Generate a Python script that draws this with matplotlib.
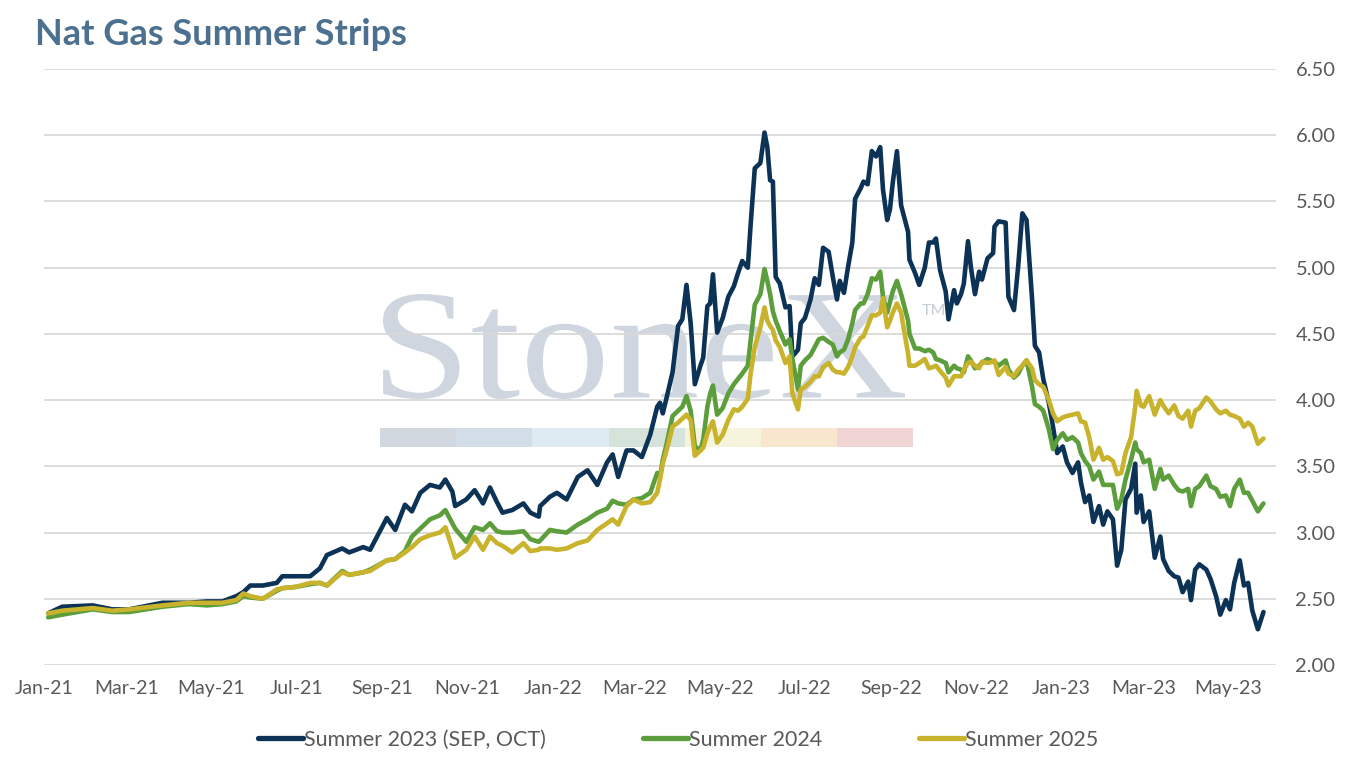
import matplotlib
matplotlib.use("Agg")
import matplotlib.pyplot as plt
import matplotlib.dates as mdates
from matplotlib.patches import Rectangle, PathPatch
from matplotlib.textpath import TextPath
from matplotlib.font_manager import FontProperties
from matplotlib.transforms import Affine2D, IdentityTransform
import pandas as pd

plt.rcParams['font.family'] = ['Lato', 'DejaVu Sans']

dates = [
    "2021-01-04", "2021-01-14", "2021-02-05", "2021-02-19", "2021-03-03", "2021-03-27", "2021-04-15", "2021-04-28",
    "2021-05-09", "2021-05-19", "2021-05-24", "2021-05-29", "2021-06-07", "2021-06-17", "2021-06-21", "2021-07-01",
    "2021-07-11", "2021-07-18", "2021-07-23", "2021-08-03", "2021-08-08", "2021-08-18", "2021-08-23", "2021-09-04",
    "2021-09-10", "2021-09-17", "2021-09-22", "2021-09-28", "2021-10-05", "2021-10-12", "2021-10-16", "2021-10-21",
    "2021-10-23", "2021-10-31", "2021-11-06", "2021-11-12", "2021-11-17", "2021-11-22", "2021-11-26", "2021-12-03",
    "2021-12-11", "2021-12-16", "2021-12-22", "2021-12-23", "2021-12-30", "2022-01-04", "2022-01-11", "2022-01-19",
    "2022-01-26", "2022-02-02", "2022-02-09", "2022-02-13", "2022-02-17", "2022-02-23", "2022-02-28", "2022-03-06",
    "2022-03-12", "2022-03-17", "2022-03-19", "2022-03-21", "2022-03-24", "2022-03-28", "2022-04-01", "2022-04-04",
    "2022-04-07", "2022-04-10", "2022-04-13", "2022-04-17", "2022-04-19", "2022-04-22", "2022-04-24", "2022-04-26",
    "2022-04-29", "2022-05-03", "2022-05-07", "2022-05-11", "2022-05-14", "2022-05-17", "2022-05-21", "2022-05-23",
    "2022-05-26", "2022-05-30", "2022-06-02", "2022-06-04", "2022-06-06", "2022-06-08", "2022-06-10", "2022-06-13",
    "2022-06-17", "2022-06-20", "2022-06-22", "2022-06-26", "2022-06-28", "2022-07-01", "2022-07-05", "2022-07-08",
    "2022-07-11", "2022-07-14", "2022-07-18", "2022-07-21", "2022-07-24", "2022-07-26", "2022-07-29", "2022-08-01",
    "2022-08-04", "2022-08-06", "2022-08-10", "2022-08-12", "2022-08-15", "2022-08-18", "2022-08-21", "2022-08-24",
    "2022-08-26", "2022-08-29", "2022-08-31", "2022-09-02", "2022-09-05", "2022-09-08", "2022-09-13", "2022-09-14",
    "2022-09-18", "2022-09-21", "2022-09-25", "2022-09-28", "2022-10-01", "2022-10-03", "2022-10-06", "2022-10-10",
    "2022-10-12", "2022-10-16", "2022-10-18", "2022-10-21", "2022-10-23", "2022-10-26", "2022-10-28", "2022-10-31",
    "2022-11-03", "2022-11-05", "2022-11-09", "2022-11-13", "2022-11-14", "2022-11-17", "2022-11-22", "2022-11-24",
    "2022-11-28", "2022-12-01", "2022-12-04", "2022-12-07", "2022-12-11", "2022-12-13", "2022-12-16", "2022-12-19",
    "2022-12-23", "2022-12-26", "2022-12-29", "2023-01-02", "2023-01-05", "2023-01-09", "2023-01-13", "2023-01-15",
    "2023-01-18", "2023-01-21", "2023-01-24", "2023-01-28", "2023-01-31", "2023-02-03", "2023-02-07", "2023-02-10",
    "2023-02-13", "2023-02-16", "2023-02-20", "2023-02-23", "2023-02-24", "2023-02-27", "2023-03-01", "2023-03-05",
    "2023-03-09", "2023-03-13", "2023-03-15", "2023-03-19", "2023-03-23", "2023-03-26", "2023-03-29", "2023-04-02",
    "2023-04-04", "2023-04-07", "2023-04-10", "2023-04-15", "2023-04-18", "2023-04-22", "2023-04-25", "2023-04-29",
    "2023-05-02", "2023-05-05", "2023-05-09", "2023-05-12", "2023-05-15", "2023-05-18", "2023-05-22", "2023-05-26",
]

summer_2023 = [
    2.39, 2.44, 2.45, 2.42, 2.42, 2.47, 2.47, 2.48,
    2.48, 2.52, 2.55, 2.60, 2.60, 2.62, 2.67, 2.67,
    2.67, 2.73, 2.83, 2.88, 2.85, 2.89, 2.87, 3.11,
    3.02, 3.21, 3.16, 3.30, 3.36, 3.34, 3.40, 3.31,
    3.20, 3.25, 3.32, 3.22, 3.34, 3.23, 3.15, 3.17,
    3.22, 3.15, 3.12, 3.20, 3.27, 3.30, 3.25, 3.42,
    3.47, 3.36, 3.53, 3.59, 3.42, 3.62, 3.62, 3.57,
    3.74, 3.95, 3.98, 3.90, 4.03, 4.21, 4.56, 4.61,
    4.87, 4.58, 4.12, 4.26, 4.32, 4.71, 4.73, 4.95,
    4.51, 4.62, 4.78, 4.86, 4.96, 5.05, 5.00, 5.32,
    5.75, 5.79, 6.02, 5.91, 5.66, 5.65, 4.93, 4.88,
    4.70, 4.71, 4.33, 4.38, 4.58, 4.62, 4.76, 4.92,
    4.87, 5.15, 5.12, 4.93, 4.76, 4.90, 4.81, 5.01,
    5.19, 5.52, 5.60, 5.65, 5.63, 5.88, 5.84, 5.91,
    5.59, 5.36, 5.44, 5.64, 5.88, 5.47, 5.27, 5.06,
    4.96, 4.87, 5.00, 5.19, 5.19, 5.22, 4.98, 4.82,
    4.61, 4.83, 4.73, 4.80, 4.88, 5.20, 5.01, 4.80,
    4.97, 4.91, 5.07, 5.11, 5.31, 5.35, 5.34, 4.78,
    4.68, 5.01, 5.41, 5.36, 4.76, 4.41, 4.36, 4.16,
    3.98, 3.80, 3.60, 3.65, 3.53, 3.45, 3.53, 3.38,
    3.23, 3.28, 3.08, 3.20, 3.06, 3.16, 3.10, 2.75,
    2.87, 3.25, 3.33, 3.52, 3.15, 3.28, 3.08, 3.16,
    2.81, 2.97, 2.80, 2.71, 2.67, 2.66, 2.55, 2.63,
    2.49, 2.72, 2.76, 2.72, 2.65, 2.52, 2.38, 2.49,
    2.42, 2.62, 2.79, 2.60, 2.62, 2.41, 2.27, 2.40,
]

summer_2024 = [
    2.36, 2.38, 2.42, 2.40, 2.40, 2.44, 2.46, 2.45,
    2.46, 2.48, 2.52, 2.51, 2.50, 2.56, 2.58, 2.59,
    2.61, 2.62, 2.60, 2.71, 2.68, 2.70, 2.72, 2.79,
    2.80, 2.86, 2.97, 3.03, 3.10, 3.13, 3.17, 3.07,
    3.03, 2.93, 3.04, 3.02, 3.07, 3.01, 3.00, 3.00,
    3.01, 2.95, 2.93, 2.94, 3.02, 3.01, 3.00, 3.06,
    3.10, 3.15, 3.18, 3.24, 3.22, 3.21, 3.25, 3.26,
    3.30, 3.45, 3.42, 3.55, 3.68, 3.88, 3.92, 3.95,
    4.03, 3.92, 3.65, 3.62, 3.70, 3.95, 4.05, 4.11,
    3.89, 3.94, 4.05, 4.12, 4.16, 4.20, 4.26, 4.45,
    4.72, 4.80, 4.99, 4.90, 4.80, 4.67, 4.60, 4.52,
    4.42, 4.46, 4.31, 4.08, 4.26, 4.30, 4.34, 4.40,
    4.46, 4.47, 4.44, 4.42, 4.33, 4.36, 4.38, 4.46,
    4.58, 4.68, 4.73, 4.73, 4.80, 4.92, 4.91, 4.97,
    4.78, 4.66, 4.74, 4.82, 4.90, 4.80, 4.60, 4.50,
    4.39, 4.39, 4.37, 4.38, 4.36, 4.31, 4.30, 4.28,
    4.21, 4.26, 4.24, 4.23, 4.21, 4.33, 4.30, 4.24,
    4.26, 4.28, 4.31, 4.29, 4.29, 4.26, 4.30, 4.23,
    4.17, 4.20, 4.26, 4.30, 4.10, 3.97, 3.95, 3.92,
    3.78, 3.63, 3.70, 3.75, 3.70, 3.72, 3.68, 3.60,
    3.54, 3.50, 3.40, 3.46, 3.36, 3.36, 3.36, 3.18,
    3.25, 3.40, 3.55, 3.68, 3.63, 3.60, 3.53, 3.55,
    3.33, 3.48, 3.40, 3.43, 3.36, 3.32, 3.31, 3.33,
    3.20, 3.33, 3.35, 3.43, 3.35, 3.33, 3.27, 3.28,
    3.20, 3.33, 3.40, 3.30, 3.30, 3.24, 3.16, 3.22,
]

summer_2025 = [
    2.39, 2.41, 2.43, 2.41, 2.42, 2.45, 2.47, 2.47,
    2.47, 2.49, 2.54, 2.52, 2.50, 2.57, 2.58, 2.59,
    2.62, 2.62, 2.60, 2.70, 2.68, 2.70, 2.71, 2.79,
    2.80, 2.85, 2.89, 2.95, 2.98, 3.00, 3.04, 2.88,
    2.81, 2.87, 2.97, 2.87, 2.97, 2.92, 2.90, 2.85,
    2.92, 2.86, 2.87, 2.88, 2.88, 2.87, 2.88, 2.92,
    2.94, 3.02, 3.07, 3.10, 3.06, 3.20, 3.25, 3.22,
    3.23, 3.30, 3.40, 3.52, 3.63, 3.80, 3.83, 3.86,
    3.89, 3.85, 3.58, 3.62, 3.64, 3.75, 3.80, 3.84,
    3.68, 3.74, 3.85, 3.93, 3.92, 3.95, 4.01, 4.20,
    4.40, 4.55, 4.70, 4.60, 4.56, 4.53, 4.45, 4.40,
    4.28, 4.33, 4.05, 3.93, 4.08, 4.10, 4.14, 4.18,
    4.18, 4.25, 4.28, 4.23, 4.21, 4.21, 4.20, 4.25,
    4.33, 4.40, 4.47, 4.48, 4.56, 4.64, 4.64, 4.66,
    4.77, 4.55, 4.60, 4.66, 4.73, 4.66, 4.35, 4.26,
    4.26, 4.28, 4.31, 4.24, 4.25, 4.26, 4.22, 4.17,
    4.11, 4.18, 4.18, 4.18, 4.23, 4.28, 4.29, 4.26,
    4.24, 4.29, 4.28, 4.29, 4.30, 4.19, 4.25, 4.20,
    4.18, 4.23, 4.26, 4.30, 4.24, 4.15, 4.12, 4.10,
    4.00, 3.90, 3.84, 3.87, 3.88, 3.89, 3.90, 3.84,
    3.83, 3.72, 3.55, 3.64, 3.55, 3.57, 3.54, 3.44,
    3.45, 3.60, 3.72, 3.95, 4.07, 3.96, 3.95, 4.03,
    3.89, 4.00, 3.96, 3.90, 3.96, 3.88, 3.86, 3.92,
    3.80, 3.92, 3.94, 4.02, 3.99, 3.93, 3.90, 3.92,
    3.89, 3.88, 3.86, 3.80, 3.83, 3.80, 3.67, 3.71,
]

series_names = ["Summer 2023 (SEP, OCT)", "Summer 2024", "Summer 2025"]
series_colors = ["#0c3256", "#5b9e3b", "#c9b22c"]
title = "Nat Gas Summer Strips"
y_ticks = [2.0, 2.5, 3.0, 3.5, 4.0, 4.5, 5.0, 5.5, 6.0, 6.5]

W, H = 1356, 758
fig = plt.figure(figsize=(W / 100, H / 100), dpi=100)
ax = fig.add_axes([44 / W, 93 / H, (1276 - 44) / W, (665 - 69) / H])

x = pd.to_datetime(dates)
for vals, name, col in zip([summer_2023, summer_2024, summer_2025], series_names, series_colors):
    ax.plot(x, vals, color=col, lw=3.3, label=name, solid_joinstyle='round', solid_capstyle='round', zorder=3)

ax.set_ylim(2.0, 6.5)
ax.set_yticks(y_ticks)
ax.yaxis.set_major_formatter(matplotlib.ticker.FormatStrFormatter('%.2f'))
ax.set_xlim(pd.Timestamp("2021-01-01"), pd.Timestamp("2023-06-04"))
ax.xaxis.set_major_locator(mdates.MonthLocator(bymonth=[1, 3, 5, 7, 9, 11]))
ax.xaxis.set_major_formatter(mdates.DateFormatter('%b-%y'))
ax.yaxis.tick_right()
ax.tick_params(axis='y', length=0, pad=14, labelsize=14.5, labelcolor='#595959')
ax.tick_params(axis='x', length=0, pad=11, labelsize=14, labelcolor='#595959')
for s in ax.spines.values():
    s.set_visible(False)
ax.grid(axis='y', color='#d9d9d9', lw=1.3)
ax.set_axisbelow(True)

# watermark "StoneX" scaled to the logo box
tp = TextPath((0, 0), "StoneX", size=100, prop=FontProperties(family='Liberation Serif'))
ext = tp.get_extents()
x0, x1, ytop, ybot = 383, 905, 294, 399
sx = (x1 - x0) / ext.width
sy = (ybot - ytop) / ext.height
tr = Affine2D().translate(-ext.x0, -ext.y0).scale(sx, sy).translate(x0, H - ybot)
wm = PathPatch(tp, transform=tr + IdentityTransform(), facecolor='#cfd6df', edgecolor='none', zorder=0.3)
ax.add_artist(wm)
ax.text(922 / W, 1 - 315 / H, "TM", transform=fig.transFigure, fontsize=11.5,
        color='#c5cdd7', va='baseline', ha='left', zorder=0.3)
bar_colors = ["#d2d8e0", "#d3dde8", "#deebf3", "#d5e3da", "#f6f4dc", "#f8e6cf", "#f1d5d5"]
for i, c in enumerate(bar_colors):
    ax.add_patch(Rectangle(((380 + i * 76.2) / W, 1 - 447 / H), 76.2 / W, 19 / H,
                           transform=fig.transFigure, facecolor=c, edgecolor='none', zorder=0.3))

fig.text(35 / W, 1 - 45 / H, title, fontsize=26, fontweight='bold', color='#4b7090',
         va='baseline', ha='left')

leg = fig.legend(loc='center', bbox_to_anchor=(0.5, 1 - 740 / H), ncol=3, frameon=False,
                 fontsize=15.5, handlelength=2.1, handletextpad=0.05, columnspacing=4.5)
for t in leg.get_texts():
    t.set_color('#595959')
for l in leg.get_lines():
    l.set_linewidth(3.8)

fig.savefig("out.png", dpi=100)
